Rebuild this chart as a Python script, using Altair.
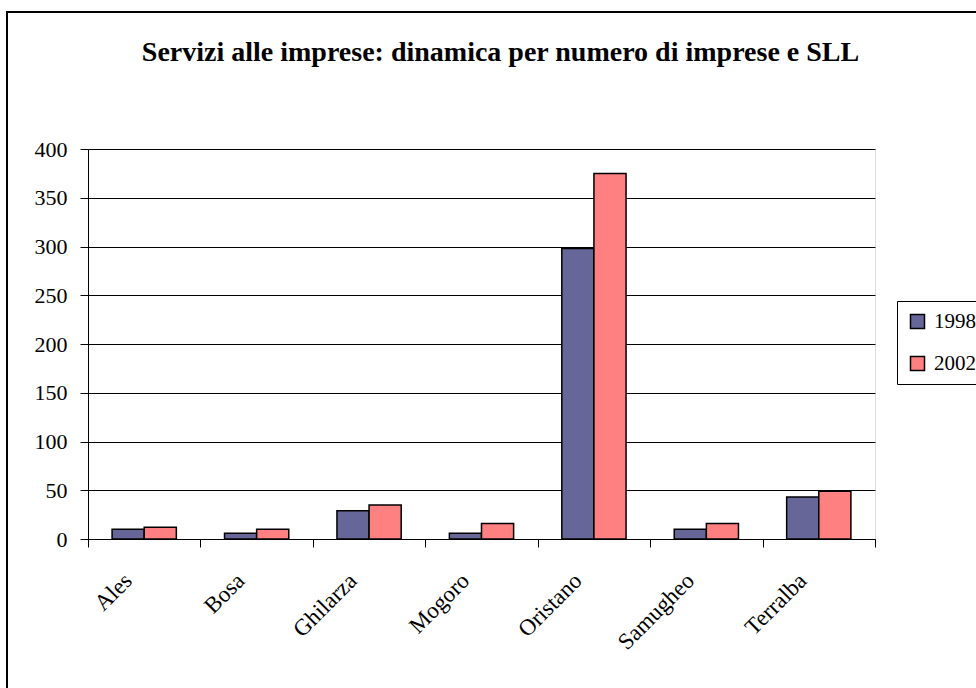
import altair as alt
import pandas as pd

categories = ["Ales", "Bosa", "Ghilarza", "Mogoro", "Oristano", "Samugheo", "Terralba"]
v1998 = [10, 6, 29, 6, 298, 10, 43]
v2002 = [12, 10, 35, 16, 375, 16, 49]
years = ["1998", "2002"]
colors = ["#666699", "#FF8080"]
y_ticks = [0, 50, 100, 150, 200, 250, 300, 350, 400]

rows = []
for c, a, b in zip(categories, v1998, v2002):
    rows.append({"SLL": c, "Anno": "1998", "Imprese": a})
    rows.append({"SLL": c, "Anno": "2002", "Imprese": b})
df = pd.DataFrame(rows)

FONT = "Liberation Serif"

bars = alt.Chart(df).mark_bar(stroke="black", strokeWidth=1.5).encode(
    x=alt.X("SLL:N", sort=categories, title=None,
            scale=alt.Scale(paddingInner=0, paddingOuter=0),
            axis=alt.Axis(labelAngle=-45, labelAlign="right", labelBaseline="top",
                          labelPadding=22, labelOffset=-24, tickBand="extent",
                          tickSize=8, tickColor="black", domainColor="black",
                          labelFont=FONT, labelFontSize=23, labelColor="black",
                          grid=False)),
    xOffset=alt.XOffset("Anno:N", sort=years,
                        scale=alt.Scale(paddingInner=0, paddingOuter=0.75)),
    y=alt.Y("Imprese:Q", title=None,
            scale=alt.Scale(domain=[0, 400], nice=False),
            axis=alt.Axis(values=y_ticks, grid=True, gridColor="black", gridOpacity=1,
                          gridWidth=1, tickSize=8, tickColor="black", domainColor="black",
                          labelPadding=13, labelFont=FONT, labelFontSize=22,
                          labelColor="black")),
    color=alt.Color("Anno:N", sort=years, title=None,
                    scale=alt.Scale(domain=years, range=colors),
                    legend=alt.Legend(orient="none", legendX=809, legendY=152,
                                      strokeColor="black", padding=10,
                                      symbolType="square", symbolSize=196,
                                      symbolStrokeColor="black", symbolStrokeWidth=1.5,
                                      symbolOpacity=1, labelFont=FONT, labelFontSize=21,
                                      labelColor="black", rowPadding=20, labelOffset=6,
                                      fillColor="white")),
)

frame = alt.Chart(df).mark_rect(fill=None, stroke="black", strokeWidth=2).encode(
    x=alt.value(-81), x2=alt.value(920), y=alt.value(-137), y2=alt.value(580)
)

chart = alt.layer(frame, bars).properties(
    width=787, height=390,
    padding={"left": 88, "top": 149, "right": 101, "bottom": 149},
    autosize=alt.AutoSizeParams(type="none"),
    title=alt.TitleParams("Servizi alle imprese: dinamica per numero di imprese e SLL",
                          font=FONT, fontSize=28, fontWeight="bold", color="black",
                          anchor="middle", frame="group", dx=19, baseline="alphabetic",
                          offset=0, dy=78),
).configure_view(stroke="#808080", strokeWidth=1.5).configure(background="white")

chart.save("out.html", embed_options={"renderer": "svg", "actions": False})
